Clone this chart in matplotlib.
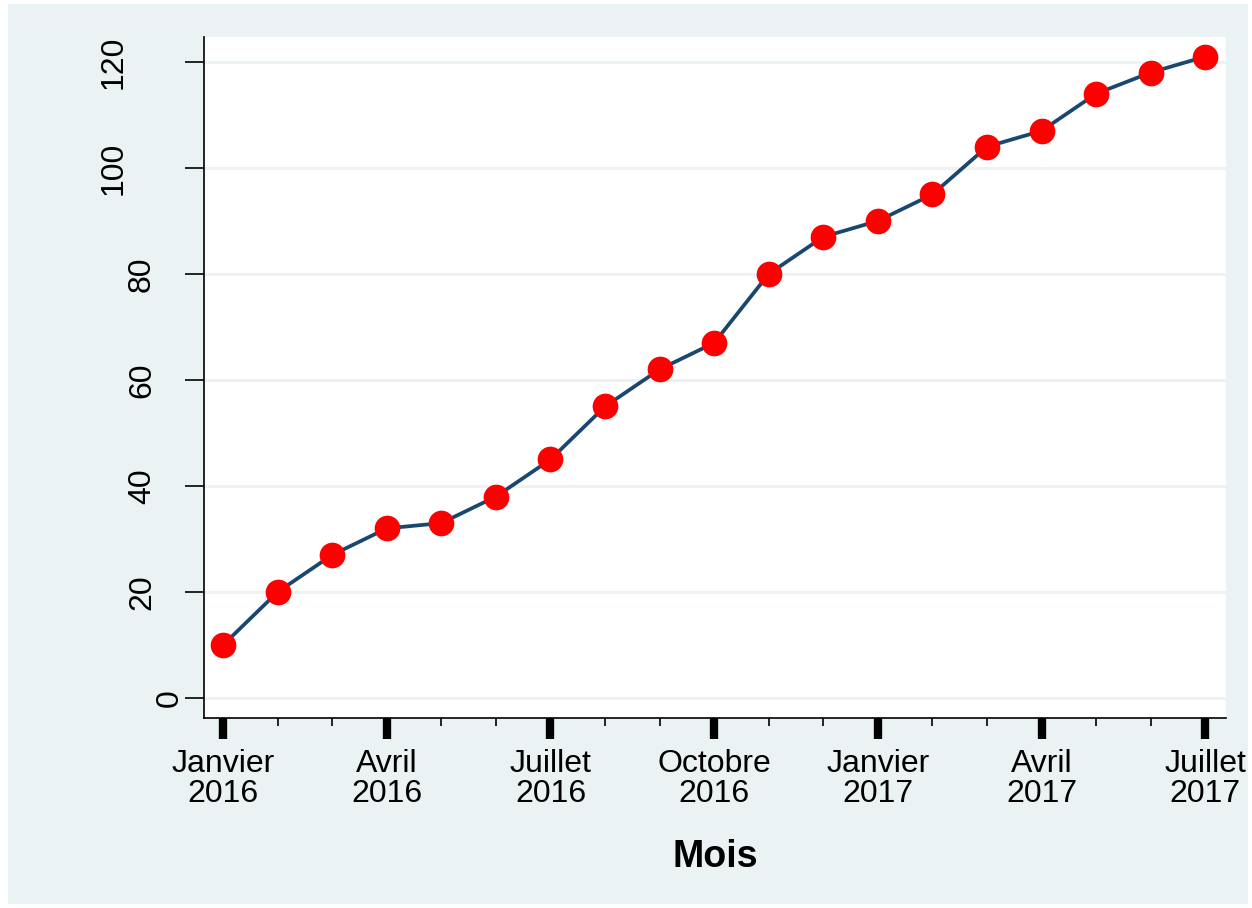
import matplotlib.pyplot as plt
import matplotlib.patches as mpatches
from matplotlib.ticker import MultipleLocator

# data: monthly cumulative counts, Jan 2016 .. Jul 2017
months = list(range(19))
values = [10, 20, 27, 32, 33, 38, 45, 55, 62, 67, 80, 87, 90, 95,
          104, 107, 114, 118, 121]
tick_labels = ["Janvier\n2016", "Avril\n2016", "Juillet\n2016", "Octobre\n2016",
               "Janvier\n2017", "Avril\n2017", "Juillet\n2017"]
y_ticks = [0, 20, 40, 60, 80, 100, 120]

plt.rcParams["font.family"] = ["Liberation Sans", "DejaVu Sans"]

bg = "#EAF2F3"
fig = plt.figure(figsize=(12.52, 9.08), dpi=100)
fig.patch.set_facecolor("white")
# stata-like light outer panel with a thin white border
fig.patches.append(mpatches.Rectangle((8 / 1252, 4 / 908), 1240 / 1252, 900 / 908,
                                      transform=fig.transFigure, facecolor=bg,
                                      edgecolor="none", zorder=0))

ax = fig.add_axes([204 / 1252, 1 - 718 / 908, 1022 / 1252, 681 / 908])
ax.set_facecolor("white")
ax.set_zorder(1)

ax.plot(months, values, color="#1A476F", linewidth=2.7, zorder=3)
ax.plot(months, values, linestyle="none", marker="o", markersize=18.5,
        markerfacecolor="#FF0000", markeredgewidth=0, zorder=4)

ax.set_xlim(-0.35, 18.38)
ax.set_ylim(-3.77, 124.7)

# y labels: stata shifts longer rotated labels further from the axis
ax.set_yticks(y_ticks)
ax.set_yticklabels([])
for v in y_ticks:
    s = str(v)
    gap_px = 19 + 28 * (len(s) - 1)
    ax.annotate(s, xy=(0, v), xycoords=("axes fraction", "data"),
                xytext=(-gap_px * 0.72, 0), textcoords="offset points",
                rotation=90, ha="right", va="center", fontsize=23)
ax.grid(axis="y", color=bg, linewidth=2, zorder=1)
ax.set_axisbelow(True)

ax.set_xticks(months[::3])
ax.set_xticklabels(tick_labels, fontsize=23, linespacing=1.0)
ax.xaxis.set_minor_locator(MultipleLocator(1))

ax.tick_params(axis="x", which="major", length=15, width=6, pad=7, color="black")
ax.tick_params(axis="x", which="minor", length=6, width=1.2, color="black")
ax.tick_params(axis="y", which="major", length=14, width=1.2, color="black")

for side in ["top", "right"]:
    ax.spines[side].set_visible(False)
for side in ["left", "bottom"]:
    ax.spines[side].set_linewidth(1.2)

ax.set_xlabel("Mois", fontsize=27, fontweight="bold", labelpad=22)

fig.savefig("out.png", dpi=100, facecolor=fig.get_facecolor())
